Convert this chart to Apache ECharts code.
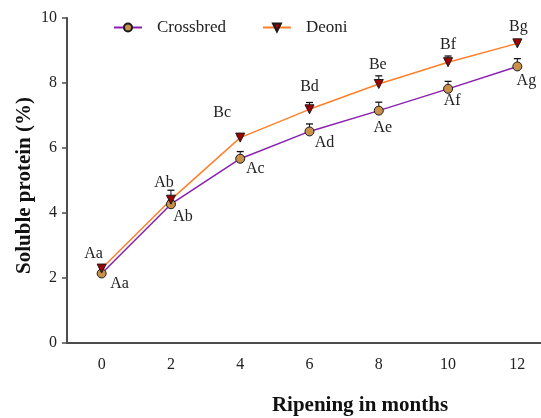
<!DOCTYPE html>
<html>
<head>
<meta charset="utf-8">
<script src="https://cdn.jsdelivr.net/npm/echarts@6/dist/echarts.min.js"></script>
<style>
html,body{margin:0;padding:0;background:#fff;}
#chart{width:541px;height:418px;}
</style>
</head>
<body>
<div id="chart"></div>
<script>
// ---- data ----
const months = ['0', '2', '4', '6', '8', '10', '12'];
const crossbred = [2.14, 4.27, 5.67, 6.51, 7.15, 7.82, 8.51];
const crossbredErr = [0.08, 0.10, 0.22, 0.23, 0.26, 0.23, 0.24];
const crossbredLetters = ['Aa', 'Ab', 'Ac', 'Ad', 'Ae', 'Af', 'Ag'];
const deoni = [2.29, 4.41, 6.32, 7.19, 7.97, 8.64, 9.22];
const deoniErr = [0.12, 0.29, 0.05, 0.21, 0.25, 0.19, 0.05];
const deoniLetters = ['Aa', 'Ab', 'Bc', 'Bd', 'Be', 'Bf', 'Bg'];
const yTicks = [0, 2, 4, 6, 8, 10];

// ---- layout (label offsets, px) ----
const crossLabelOffset = [[18, 10], [12, 13], [15, 10], [15, 11], [4, 17], [4, 12], [9, 14]];
const deoniLabelOffset = [[-8, -15], [-7, -17], [-18, -25], [0, -23], [-1, -19], [0, -17], [1, -17]];

const FONT = '"Liberation Serif", "Times New Roman", serif';
const AXIS_COLOR = '#4d4d4d';

function errSeries(vals, errs) {
  return {
    type: 'custom',
    z: 1,
    silent: true,
    data: vals.map((v, i) => [i, v, errs[i]]),
    renderItem: function (params, api) {
      const i = api.value(0), v = api.value(1), e = api.value(2);
      const p0 = api.coord([i, v]);
      const p1 = api.coord([i, v + e]);
      const hw = 3.5;
      return {
        type: 'group',
        children: [
          {type: 'line', shape: {x1: p0[0], y1: p0[1], x2: p1[0], y2: p1[1]}, style: {stroke: '#111', lineWidth: 1}},
          {type: 'line', shape: {x1: p1[0] - hw, y1: p1[1], x2: p1[0] + hw, y2: p1[1]}, style: {stroke: '#111', lineWidth: 1.3}}
        ]
      };
    }
  };
}

const chart = echarts.init(document.getElementById('chart'), null, {renderer: 'canvas'});
chart.setOption({
  backgroundColor: '#fff',
  animation: false,
  grid: {left: 67, top: 18, width: 485, height: 325, containLabel: false, outerBoundsMode: 'none'},
  legend: {
    data: ['Crossbred', 'Deoni'],
    left: 113, top: 19, padding: 0,
    itemWidth: 28, itemHeight: 10, itemGap: 36,
    textStyle: {fontFamily: FONT, fontSize: 17, color: '#222', padding: [0, 0, 0, 10]}
  },
  xAxis: {
    type: 'category',
    data: months,
    boundaryGap: true,
    name: 'Ripening in months',
    nameLocation: 'middle',
    nameGap: 52,
    nameTextStyle: {fontFamily: FONT, fontSize: 21, fontWeight: 'bold', color: '#111', padding: [0, 0, 0, 101]},
    axisLine: {lineStyle: {color: AXIS_COLOR, width: 2}},
    axisTick: {alignWithLabel: true, length: 5, lineStyle: {color: AXIS_COLOR, width: 1.5}},
    axisLabel: {fontFamily: FONT, fontSize: 16, color: '#222', margin: 14},
    splitLine: {show: false}
  },
  yAxis: {
    type: 'value',
    min: yTicks[0], max: yTicks[yTicks.length - 1], interval: 2,
    name: 'Soluble protein (%)',
    nameLocation: 'middle',
    nameGap: 32,
    nameMoveOverlap: false,
    nameRotate: 90,
    nameTextStyle: {fontFamily: FONT, fontSize: 21, fontWeight: 'bold', color: '#111', padding: [0, 10, 0, 0]},
    axisLine: {show: true, lineStyle: {color: AXIS_COLOR, width: 2}},
    axisTick: {show: true, length: 5, lineStyle: {color: AXIS_COLOR, width: 1.5}},
    axisLabel: {fontFamily: FONT, fontSize: 16, color: '#222', margin: 10},
    splitLine: {show: false}
  },
  series: [
    errSeries(crossbred, crossbredErr),
    errSeries(deoni, deoniErr),
    {
      name: 'Crossbred',
      type: 'line',
      z: 3,
      symbol: 'circle',
      symbolSize: 9,
      lineStyle: {color: '#8a1fb0', width: 1.5},
      itemStyle: {color: '#c8914b', borderColor: '#1a1a1a', borderWidth: 1},
      data: crossbred.map((v, i) => ({
        value: v,
        label: {show: true, position: 'inside', offset: crossLabelOffset[i], formatter: crossbredLetters[i],
          fontFamily: FONT, fontSize: 16, color: '#222'}
      }))
    },
    {
      name: 'Deoni',
      type: 'line',
      z: 3,
      symbol: 'triangle',
      symbolRotate: 180,
      symbolSize: 9,
      lineStyle: {color: '#ff7f2a', width: 1.5},
      itemStyle: {color: '#a00000', borderColor: '#1a1a1a', borderWidth: 1},
      data: deoni.map((v, i) => ({
        value: v,
        label: {show: true, position: 'inside', offset: deoniLabelOffset[i], formatter: deoniLetters[i],
          fontFamily: FONT, fontSize: 16, color: '#222'}
      }))
    }
  ]
});
</script>
</body>
</html>
